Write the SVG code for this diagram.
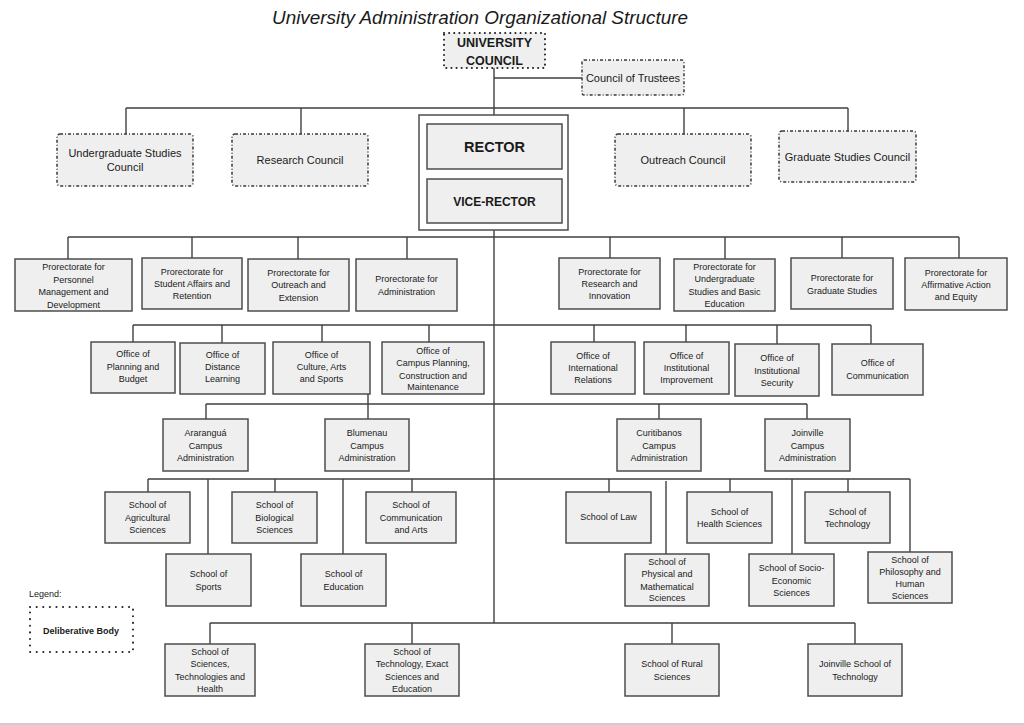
<svg xmlns="http://www.w3.org/2000/svg" width="1024" height="725" viewBox="0 0 1024 725">
<style>
text{font-family:"Liberation Sans",Arial,sans-serif;fill:#1a1a1a;text-anchor:middle}
.b{fill:#efefef;stroke:#4d4d4d;stroke-width:1.5}
.d{fill:#efefef;stroke:#3a3a3a;stroke-width:1.5;stroke-dasharray:3 2 1 2}
.dot{fill:#efefef;stroke:#222;stroke-width:2;stroke-dasharray:0.1 5;stroke-linecap:round}
.t{font-size:9px}
.c{font-size:11px}
.conn line{stroke:#3f3f3f;stroke-width:1.4}
</style>
<rect width="1024" height="725" fill="#fff"/>
<line x1="0" y1="724" x2="1024" y2="724" stroke="#cfcfcf" stroke-width="2"/>
<text x="480" y="24" font-size="19" font-style="italic" textLength="416" lengthAdjust="spacingAndGlyphs">University Administration Organizational Structure</text>

<g class="conn" id="connectors">
<line x1="494" y1="68" x2="494" y2="115"/>
<line x1="494" y1="78" x2="582" y2="78"/>
<line x1="126" y1="108" x2="848" y2="108"/>
<line x1="126" y1="108" x2="126" y2="134"/>
<line x1="301" y1="108" x2="301" y2="134"/>
<line x1="684" y1="108" x2="684" y2="134"/>
<line x1="848" y1="108" x2="848" y2="131"/>
<line x1="494" y1="230" x2="494" y2="623"/>
<line x1="68" y1="237" x2="959" y2="237"/>
<line x1="68" y1="237" x2="68" y2="259"/>
<line x1="192" y1="237" x2="192" y2="258"/>
<line x1="298" y1="237" x2="298" y2="259"/>
<line x1="407" y1="237" x2="407" y2="259"/>
<line x1="610" y1="237" x2="610" y2="258"/>
<line x1="725" y1="237" x2="725" y2="259"/>
<line x1="842" y1="237" x2="842" y2="258"/>
<line x1="959" y1="237" x2="959" y2="258"/>
<line x1="133" y1="325" x2="871" y2="325"/>
<line x1="133" y1="325" x2="133" y2="342"/>
<line x1="222" y1="325" x2="222" y2="343"/>
<line x1="322" y1="325" x2="322" y2="342"/>
<line x1="429" y1="325" x2="429" y2="342"/>
<line x1="594" y1="325" x2="594" y2="342"/>
<line x1="686" y1="325" x2="686" y2="342"/>
<line x1="777" y1="325" x2="777" y2="344"/>
<line x1="871" y1="325" x2="871" y2="344"/>
<line x1="206" y1="404" x2="807" y2="404"/>
<line x1="206" y1="404" x2="206" y2="419"/>
<line x1="368" y1="394" x2="368" y2="419"/>
<line x1="659" y1="404" x2="659" y2="419"/>
<line x1="807" y1="404" x2="807" y2="419"/>
<line x1="148" y1="479" x2="910" y2="479"/>
<line x1="148" y1="479" x2="148" y2="492"/>
<line x1="208" y1="479" x2="208" y2="554"/>
<line x1="275" y1="479" x2="275" y2="492"/>
<line x1="343" y1="479" x2="343" y2="554"/>
<line x1="412" y1="479" x2="412" y2="492"/>
<line x1="609" y1="479" x2="609" y2="492"/>
<line x1="666" y1="481" x2="666" y2="554"/>
<line x1="730" y1="479" x2="730" y2="492"/>
<line x1="792" y1="479" x2="792" y2="554"/>
<line x1="848" y1="479" x2="848" y2="492"/>
<line x1="910" y1="479" x2="910" y2="552"/>
<line x1="210" y1="623" x2="855" y2="623"/>
<line x1="210" y1="623" x2="210" y2="644"/>
<line x1="412" y1="623" x2="412" y2="644"/>
<line x1="672" y1="623" x2="672" y2="644"/>
<line x1="855" y1="623" x2="855" y2="644"/>
</g>

<g id="university-council">
<rect class="dot" x="444" y="33" width="101" height="35"/>
<text x="494.5" y="47" font-size="12.5" font-weight="bold">UNIVERSITY</text>
<text x="494.5" y="65" font-size="12.5" font-weight="bold">COUNCIL</text>
</g>
<g id="council-of-trustees">
<rect class="d" x="582" y="60" width="102" height="35" rx="2"/>
<text class="c" x="633" y="82" font-size="10.5">Council of Trustees</text>
</g>

<g id="undergraduate-council">
<rect class="d" x="57" y="134" width="136" height="52" rx="3"/>
<text class="c" x="125" y="157">Undergraduate Studies</text>
<text class="c" x="125" y="171">Council</text>
</g>
<g id="research-council">
<rect class="d" x="232" y="134" width="136" height="52" rx="3"/>
<text class="c" x="300" y="164">Research Council</text>
</g>
<g id="outreach-council">
<rect class="d" x="615" y="134" width="136" height="52" rx="3"/>
<text class="c" x="683" y="164">Outreach Council</text>
</g>
<g id="graduate-council">
<rect class="d" x="779" y="131" width="137" height="51" rx="3"/>
<text class="c" x="847.5" y="161">Graduate Studies Council</text>
</g>

<g id="rector-group">
<rect x="419" y="115" width="149" height="115" fill="#fff" stroke="#4d4d4d" stroke-width="1.5"/>
<g id="rector">
<rect class="b" x="427" y="124" width="135" height="45"/>
<text x="494.5" y="152" font-size="14.5" font-weight="bold">RECTOR</text>
</g>
<g id="vice-rector">
<rect class="b" x="427" y="179" width="135" height="44"/>
<text x="494.5" y="206" font-size="12" font-weight="bold">VICE-RECTOR</text>
</g>
</g>

<g id="pr-personnel">
<rect class="b" x="15" y="259" width="117" height="52"/>
<text class="t" x="73.5" y="270">Prorectorate for</text>
<text class="t" x="73.5" y="282.5">Personnel</text>
<text class="t" x="73.5" y="295">Management and</text>
<text class="t" x="73.5" y="307.5">Development</text>
</g>
<g id="pr-student">
<rect class="b" x="142" y="258" width="100" height="51"/>
<text class="t" x="192" y="275">Prorectorate for</text>
<text class="t" x="192" y="287">Student Affairs and</text>
<text class="t" x="192" y="299">Retention</text>
</g>
<g id="pr-outreach">
<rect class="b" x="248" y="259" width="101" height="52"/>
<text class="t" x="298.5" y="276">Prorectorate for</text>
<text class="t" x="298.5" y="288">Outreach and</text>
<text class="t" x="298.5" y="301">Extension</text>
</g>
<g id="pr-admin">
<rect class="b" x="356" y="259" width="101" height="52"/>
<text class="t" x="406.5" y="282">Prorectorate for</text>
<text class="t" x="406.5" y="295">Administration</text>
</g>
<g id="pr-research">
<rect class="b" x="559" y="258" width="101" height="51"/>
<text class="t" x="609.5" y="275">Prorectorate for</text>
<text class="t" x="609.5" y="287">Research and</text>
<text class="t" x="609.5" y="299">Innovation</text>
</g>
<g id="pr-undergrad">
<rect class="b" x="674" y="259" width="101" height="52"/>
<text class="t" x="724.5" y="270">Prorectorate for</text>
<text class="t" x="724.5" y="282">Undergraduate</text>
<text class="t" x="724.5" y="295">Studies and Basic</text>
<text class="t" x="724.5" y="307">Education</text>
</g>
<g id="pr-graduate">
<rect class="b" x="791" y="258" width="102" height="51"/>
<text class="t" x="842" y="281">Prorectorate for</text>
<text class="t" x="842" y="294">Graduate Studies</text>
</g>
<g id="pr-affirmative">
<rect class="b" x="905" y="258" width="102" height="52"/>
<text class="t" x="956" y="276">Prorectorate for</text>
<text class="t" x="956" y="288">Affirmative Action</text>
<text class="t" x="956" y="300">and Equity</text>
</g>

<g id="of-planning">
<rect class="b" x="91" y="342" width="84" height="51"/>
<text class="t" x="133" y="357">Office of</text>
<text class="t" x="133" y="370">Planning and</text>
<text class="t" x="133" y="382">Budget</text>
</g>
<g id="of-distance">
<rect class="b" x="180" y="343" width="85" height="51"/>
<text class="t" x="222.5" y="358">Office of</text>
<text class="t" x="222.5" y="370">Distance</text>
<text class="t" x="222.5" y="382">Learning</text>
</g>
<g id="of-culture">
<rect class="b" x="273" y="342" width="97" height="52"/>
<text class="t" x="321.5" y="358">Office of</text>
<text class="t" x="321.5" y="370">Culture, Arts</text>
<text class="t" x="321.5" y="382">and Sports</text>
</g>
<g id="of-campus-planning">
<rect class="b" x="382" y="342" width="102" height="52"/>
<text class="t" x="433" y="354">Office of</text>
<text class="t" x="433" y="366">Campus Planning,</text>
<text class="t" x="433" y="379">Construction and</text>
<text class="t" x="433" y="390">Maintenance</text>
</g>
<g id="of-international">
<rect class="b" x="551" y="342" width="84" height="52"/>
<text class="t" x="593" y="359">Office of</text>
<text class="t" x="593" y="371">International</text>
<text class="t" x="593" y="383">Relations</text>
</g>
<g id="of-improvement">
<rect class="b" x="644" y="342" width="85" height="52"/>
<text class="t" x="686.5" y="359">Office of</text>
<text class="t" x="686.5" y="371">Institutional</text>
<text class="t" x="686.5" y="383">Improvement</text>
</g>
<g id="of-security">
<rect class="b" x="735" y="344" width="84" height="52"/>
<text class="t" x="777" y="361">Office of</text>
<text class="t" x="777" y="374">Institutional</text>
<text class="t" x="777" y="386">Security</text>
</g>
<g id="of-communication">
<rect class="b" x="832" y="344" width="91" height="51"/>
<text class="t" x="877.5" y="366">Office of</text>
<text class="t" x="877.5" y="379">Communication</text>
</g>

<g id="campus-ararangua">
<rect class="b" x="163" y="419" width="85" height="52"/>
<text class="t" x="205.5" y="436">Araranguá</text>
<text class="t" x="205.5" y="449">Campus</text>
<text class="t" x="205.5" y="461">Administration</text>
</g>
<g id="campus-blumenau">
<rect class="b" x="325" y="419" width="84" height="52"/>
<text class="t" x="367" y="436">Blumenau</text>
<text class="t" x="367" y="449">Campus</text>
<text class="t" x="367" y="461">Administration</text>
</g>
<g id="campus-curitibanos">
<rect class="b" x="617" y="419" width="84" height="52"/>
<text class="t" x="659" y="436">Curitibanos</text>
<text class="t" x="659" y="449">Campus</text>
<text class="t" x="659" y="461">Administration</text>
</g>
<g id="campus-joinville">
<rect class="b" x="765" y="419" width="85" height="52"/>
<text class="t" x="807.5" y="436">Joinville</text>
<text class="t" x="807.5" y="449">Campus</text>
<text class="t" x="807.5" y="461">Administration</text>
</g>

<g id="sc-agricultural">
<rect class="b" x="105" y="492" width="85" height="51"/>
<text class="t" x="147.5" y="508">School of</text>
<text class="t" x="147.5" y="521">Agricultural</text>
<text class="t" x="147.5" y="533">Sciences</text>
</g>
<g id="sc-biological">
<rect class="b" x="232" y="492" width="85" height="51"/>
<text class="t" x="274.5" y="508">School of</text>
<text class="t" x="274.5" y="521">Biological</text>
<text class="t" x="274.5" y="533">Sciences</text>
</g>
<g id="sc-communication">
<rect class="b" x="366" y="492" width="90" height="51"/>
<text class="t" x="411" y="508">School of</text>
<text class="t" x="411" y="521">Communication</text>
<text class="t" x="411" y="533">and Arts</text>
</g>
<g id="sc-sports">
<rect class="b" x="166" y="554" width="85" height="52"/>
<text class="t" x="208.5" y="577">School of</text>
<text class="t" x="208.5" y="590">Sports</text>
</g>
<g id="sc-education">
<rect class="b" x="301" y="554" width="85" height="52"/>
<text class="t" x="343.5" y="577">School of</text>
<text class="t" x="343.5" y="590">Education</text>
</g>
<g id="sc-law">
<rect class="b" x="566" y="492" width="85" height="51"/>
<text class="t" x="608.5" y="520">School of Law</text>
</g>
<g id="sc-health">
<rect class="b" x="687" y="492" width="85" height="51"/>
<text class="t" x="729.5" y="515">School of</text>
<text class="t" x="729.5" y="527">Health Sciences</text>
</g>
<g id="sc-technology">
<rect class="b" x="805" y="492" width="85" height="51"/>
<text class="t" x="847.5" y="515">School of</text>
<text class="t" x="847.5" y="527">Technology</text>
</g>
<g id="sc-physical">
<rect class="b" x="625" y="554" width="84" height="52"/>
<text class="t" x="667" y="565">School of</text>
<text class="t" x="667" y="577">Physical and</text>
<text class="t" x="667" y="590">Mathematical</text>
<text class="t" x="667" y="601">Sciences</text>
</g>
<g id="sc-socio">
<rect class="b" x="749" y="554" width="85" height="52"/>
<text class="t" x="791.5" y="571">School of Socio-</text>
<text class="t" x="791.5" y="584">Economic</text>
<text class="t" x="791.5" y="596">Sciences</text>
</g>
<g id="sc-philosophy">
<rect class="b" x="868" y="552" width="84" height="51"/>
<text class="t" x="910" y="563">School of</text>
<text class="t" x="910" y="575">Philosophy and</text>
<text class="t" x="910" y="587">Human</text>
<text class="t" x="910" y="599">Sciences</text>
</g>

<g id="sc-sciences-tech-health">
<rect class="b" x="165" y="644" width="90" height="52"/>
<text class="t" x="210" y="655">School of</text>
<text class="t" x="210" y="667">Sciences,</text>
<text class="t" x="210" y="680">Technologies and</text>
<text class="t" x="210" y="692">Health</text>
</g>
<g id="sc-tech-exact">
<rect class="b" x="365" y="644" width="94" height="52"/>
<text class="t" x="412" y="655">School of</text>
<text class="t" x="412" y="667">Technology, Exact</text>
<text class="t" x="412" y="680">Sciences and</text>
<text class="t" x="412" y="692">Education</text>
</g>
<g id="sc-rural">
<rect class="b" x="625" y="644" width="94" height="52"/>
<text class="t" x="672" y="667">School of Rural</text>
<text class="t" x="672" y="680">Sciences</text>
</g>
<g id="sc-joinville-tech">
<rect class="b" x="808" y="644" width="94" height="52"/>
<text class="t" x="855" y="667">Joinville School of</text>
<text class="t" x="855" y="680">Technology</text>
</g>

<g id="legend">
<text class="t" x="29" y="597" style="text-anchor:start">Legend:</text>
<rect x="30" y="607" width="103" height="45" fill="#fff" stroke="#222" stroke-width="2" stroke-dasharray="0.1 6.5" stroke-linecap="round"/>
<text x="81" y="634" font-size="9" font-weight="bold">Deliberative Body</text>
</g>
</svg>
